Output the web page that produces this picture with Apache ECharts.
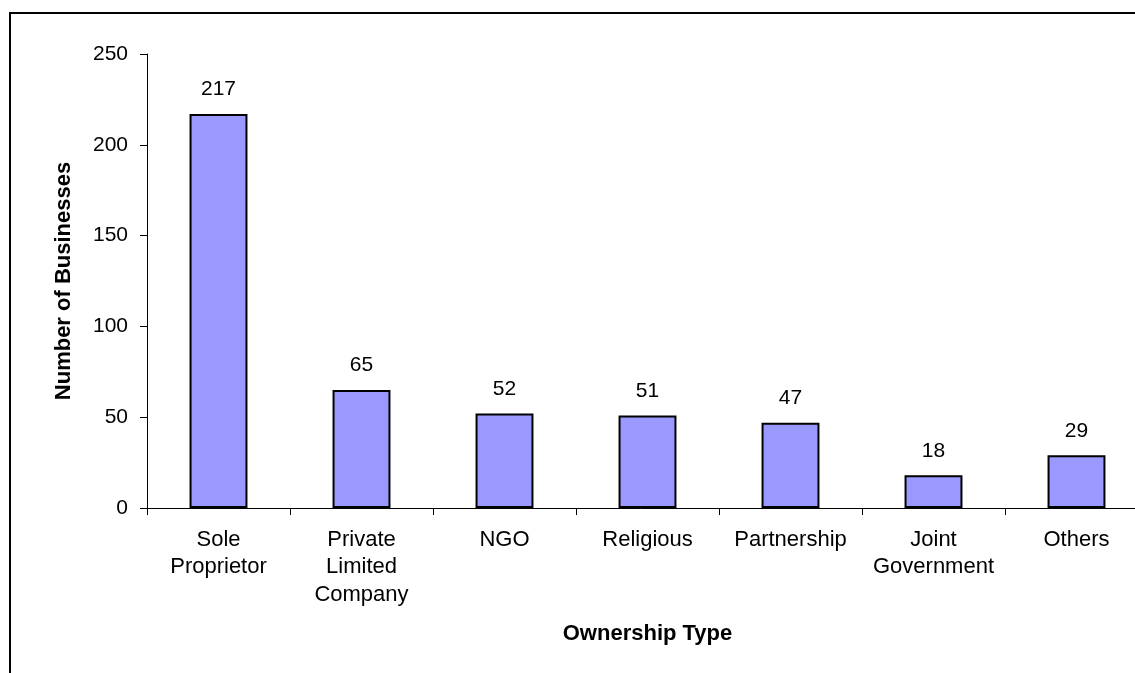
<!DOCTYPE html>
<html>
<head>
<meta charset="utf-8">
<title>Ownership Type</title>
<script src="https://cdn.jsdelivr.net/npm/echarts@6/dist/echarts.min.js"></script>
<style>
  html, body { margin: 0; padding: 0; background: #fff; }
  #chart { width: 1135px; height: 673px; }
</style>
</head>
<body>
<div id="chart"></div>
<script>
// Ownership categories (multi-line labels as shown under the axis)
const categories = [
  'Sole\nProprietor',
  'Private\nLimited\nCompany',
  'NGO',
  'Religious',
  'Partnership',
  'Joint\nGovernment',
  'Others'
];
// Number of businesses per ownership type
const businessCounts = [217, 65, 52, 51, 47, 18, 29];
// Value axis ticks
const yTicks = [0, 50, 100, 150, 200, 250];

const FONT = '"Liberation Sans", Arial, sans-serif';

const chart = echarts.init(document.getElementById('chart'), null, { renderer: 'canvas' });

chart.setOption({
  animation: false,
  backgroundColor: '#ffffff',
  textStyle: { fontFamily: FONT },
  graphic: [
    {
      type: 'polyline',
      shape: { points: [[10, 673], [10, 13], [1135, 13]] },
      style: { stroke: '#000', lineWidth: 2, fill: null },
      silent: true
    }
  ],
  // plot area runs past the right edge of the canvas
  grid: {
    left: 147,
    top: 54,
    width: 1001,
    height: 454,
    containLabel: false,
    outerBoundsMode: 'none'
  },
  xAxis: {
    type: 'category',
    data: categories,
    boundaryGap: true,
    name: 'Ownership Type',
    nameLocation: 'middle',
    nameGap: 115,
    nameTextStyle: { fontFamily: FONT, fontSize: 22, fontWeight: 'bold', color: '#000' },
    axisLine: { show: true, lineStyle: { color: '#000', width: 1 } },
    axisTick: { show: true, alignWithLabel: false, length: 7, inside: false, lineStyle: { color: '#000' } },
    axisLabel: {
      interval: 0,
      margin: 18,
      color: '#000',
      fontFamily: FONT,
      fontSize: 22,
      lineHeight: 27.5
    },
    splitLine: { show: false }
  },
  yAxis: {
    type: 'value',
    min: yTicks[0],
    max: yTicks[yTicks.length - 1],
    interval: yTicks[1] - yTicks[0],
    name: 'Number of Businesses',
    nameLocation: 'middle',
    nameGap: 72,
    nameRotate: 90,
    nameTextStyle: { fontFamily: FONT, fontSize: 22, fontWeight: 'bold', color: '#000' },
    axisLine: { show: true, lineStyle: { color: '#000', width: 1 } },
    axisTick: { show: true, length: 7, inside: false, lineStyle: { color: '#000' } },
    axisLabel: { color: '#000', fontFamily: FONT, fontSize: 21, margin: 19 },
    splitLine: { show: false }
  },
  series: [
    {
      type: 'bar',
      data: businessCounts,
      barWidth: '40.5%',
      itemStyle: { color: '#9999FF', borderColor: '#000', borderWidth: 2 },
      label: {
        show: true,
        position: 'top',
        distance: 14,
        color: '#000',
        fontFamily: FONT,
        fontSize: 21
      }
    }
  ]
});
</script>
</body>
</html>
